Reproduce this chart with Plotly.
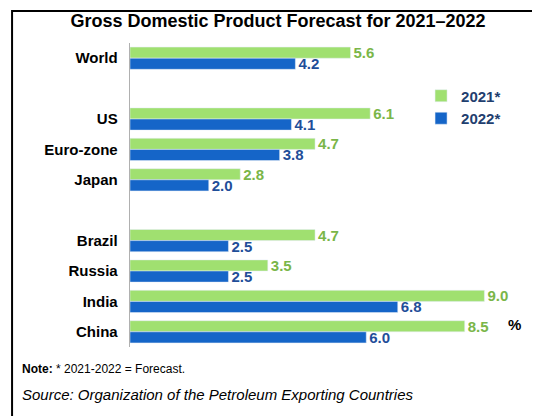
import plotly.graph_objects as go

# Categories (blank entries give the gaps between groups)
regions = ["World", " ", "US", "Euro-zone", "Japan", "  ", "Brazil", "Russia", "India", "China"]
gdp_2021 = [5.6, None, 6.1, 4.7, 2.8, None, 4.7, 3.5, 9.0, 8.5]
gdp_2022 = [4.2, None, 4.1, 3.8, 2.0, None, 2.5, 2.5, 6.8, 6.0]

def labels(vals):
    return ["" if v is None else f"{v:.1f}" for v in vals]

fig = go.Figure()
fig.add_trace(go.Bar(y=regions, x=gdp_2021, orientation="h", name="2021*",
                     marker_color="#a0e070", text=labels(gdp_2021), textposition="outside",
                     constraintext="none",
                     textfont=dict(color="#7ab648", size=15, family="Arial", weight="bold"),
                     cliponaxis=False))
fig.add_trace(go.Bar(y=regions, x=gdp_2022, orientation="h", name="2022*",
                     marker_color="#1565c8", text=labels(gdp_2022), textposition="outside",
                     constraintext="none",
                     textfont=dict(color="#1f4e99", size=15, family="Arial", weight="bold"),
                     cliponaxis=False))

fig.update_layout(
    width=540, height=416,
    margin=dict(l=122, r=40, t=35, b=77),
    plot_bgcolor="white", paper_bgcolor="white",
    barmode="group", bargap=0.27, bargroupgap=0,
    font=dict(family="Arial", color="black"),
    title=dict(text="<b>Gross Domestic Product Forecast for 2021–2022</b>",
               x=0.5, xanchor="center", y=0.985, yanchor="top", font=dict(size=18)),
    legend=dict(x=0.77, y=0.88, xanchor="left", yanchor="top", bgcolor="rgba(0,0,0,0)",
                font=dict(size=15, color="#1f3f6f", weight="bold"), tracegroupgap=4),
    showlegend=True,
)
fig.update_xaxes(range=[0, 9.6], visible=False)
fig.update_yaxes(autorange="reversed", showline=True, linecolor="#b0b0b0", ticks="",
                 tickfont=dict(size=15, weight="bold"), ticksuffix="  ")

fig.add_annotation(text="<b>%</b>", xref="paper", yref="paper", x=1.04, y=0.04,
                   showarrow=False, font=dict(size=15))
fig.add_annotation(text="<b>Note:</b> * 2021-2022 = Forecast.", xref="paper", yref="paper",
                   x=-0.29, y=-0.102, xanchor="left", showarrow=False, font=dict(size=12))
fig.add_annotation(text="<i>Source: Organization of the Petroleum Exporting Countries</i>",
                   xref="paper", yref="paper", x=-0.29, y=-0.191, xanchor="left",
                   showarrow=False, font=dict(size=15))
fig.add_shape(type="rect", xref="paper", yref="paper", x0=-0.312, x1=1.095, y0=-0.243, y1=1.105,
              line=dict(color="black", width=2))

fig.write_html("out.html")
